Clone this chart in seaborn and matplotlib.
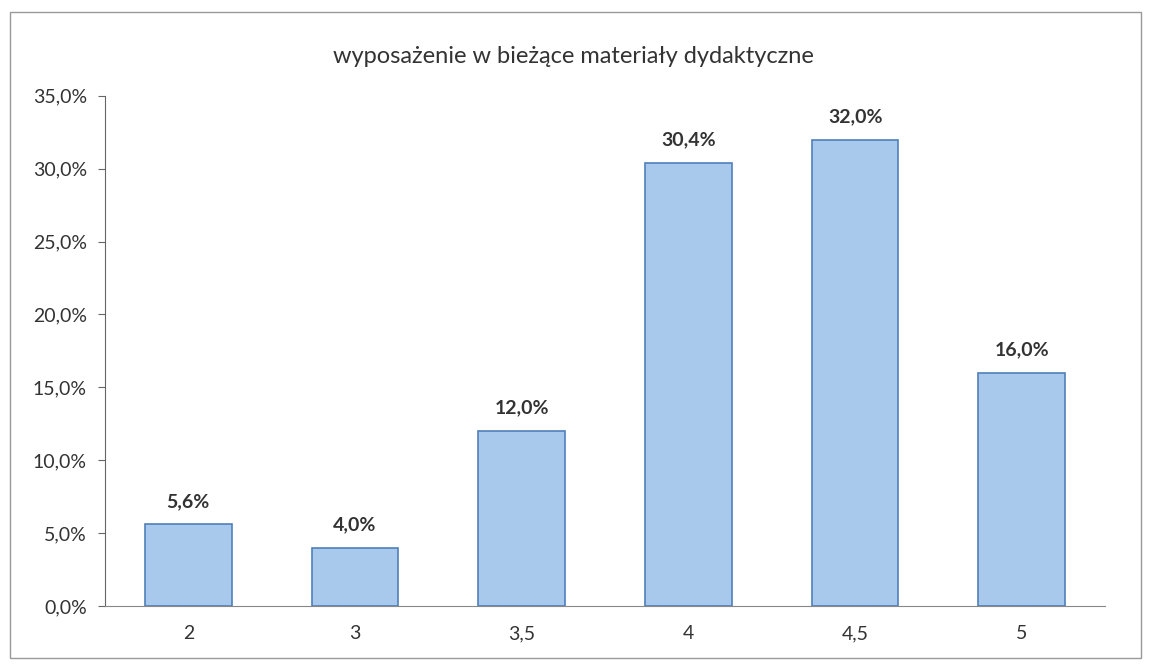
import matplotlib
matplotlib.use("Agg")
import matplotlib.pyplot as plt
import seaborn as sns
import pandas as pd
from matplotlib.patches import Rectangle
from matplotlib.ticker import FuncFormatter

# dane
oceny = ["2", "3", "3,5", "4", "4,5", "5"]
udzial = [5.6, 4.0, 12.0, 30.4, 32.0, 16.0]
tytul = "wyposażenie w bieżące materiały dydaktyczne"

sns.set_theme(style="white")
plt.rcParams['font.family'] = ['Lato', 'DejaVu Sans']

df = pd.DataFrame({"ocena": oceny, "udzial": udzial})

fig = plt.figure(figsize=(11.51, 6.66), dpi=100)
ax = fig.add_axes([0.0912, 0.0901, 0.869, 0.766])

sns.barplot(data=df, x="ocena", y="udzial", color="#a8c8ec", width=0.52,
            edgecolor="#4f7fba", linewidth=1.2, saturation=1, ax=ax)

for p, v in zip(ax.patches, udzial):
    ax.text(p.get_x() + p.get_width() / 2, v + 1.0, f"{v:.1f}%".replace(".", ","),
            ha="center", va="bottom", fontsize=14, fontweight="bold", color="#333333")

ax.set_ylim(0, 35)
ax.set_yticks(range(0, 36, 5))
ax.yaxis.set_major_formatter(FuncFormatter(lambda y, _: f"{y:.1f}%".replace(".", ",")))
ax.set_xlabel("")
ax.set_ylabel("")
ax.tick_params(axis="y", left=True, length=5, width=0.8, color="#666666", labelsize=14,
               labelcolor="#333333", pad=8)
ax.tick_params(axis="x", bottom=False, labelsize=14, labelcolor="#333333", pad=8)
for s in ["top", "right"]:
    ax.spines[s].set_visible(False)
ax.spines["left"].set_color("#666666")
ax.spines["bottom"].set_color("#888888")
ax.spines["left"].set_linewidth(0.8)
ax.spines["bottom"].set_linewidth(0.8)

fig.text(0.498, 0.915, tytul, ha="center", va="center", fontsize=17, color="#333333")

fig.patches.append(Rectangle((0.009, 0.012), 0.982, 0.97, transform=fig.transFigure,
                             fill=False, edgecolor="#999999", linewidth=1.0))

fig.savefig("out.png", dpi=100)
